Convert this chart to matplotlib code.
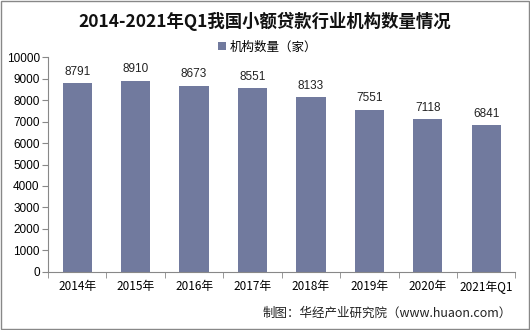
import numpy as np
import matplotlib.pyplot as plt
from matplotlib.patches import Rectangle

plt.rcParams['font.family'] = ['Noto Sans CJK SC', 'DejaVu Sans']

years = ['2014年', '2015年', '2016年', '2017年', '2018年', '2019年', '2020年', '2021年Q1']
counts = [8791, 8910, 8673, 8551, 8133, 7551, 7118, 6841]
yticks = list(range(0, 10001, 1000))

fig = plt.figure(figsize=(5.3, 3.3), dpi=100)
ax = fig.add_axes([0.0906, 0.176, 0.882, 0.651])

x = np.arange(len(years))
bar_color = '#717a9e'
ax.bar(x, counts, width=0.5, color=bar_color, label='机构数量（家）')
for xi, v in zip(x, counts):
    ax.text(xi, v + 250, str(v), ha='center', va='bottom', fontsize=8.5,
            family=['Liberation Sans', 'DejaVu Sans'], color='#222222')

ax.set_xlim(-0.5, len(years) - 0.5)
ax.set_ylim(0, 10000)
ax.set_yticks(yticks)
ax.set_yticklabels([str(t) for t in yticks], family=['Liberation Sans', 'DejaVu Sans'], fontsize=8.5)

# category ticks sit between the bars
ax.set_xticks(x)
ax.set_xticklabels(years, fontsize=8.5)
ax.tick_params(axis='x', length=0, pad=6)
ax.set_xticks(np.arange(-0.5, len(years)), minor=True)
ax.tick_params(axis='x', which='minor', length=4, color='#888888')
ax.tick_params(axis='y', length=4, color='#888888', pad=2)

for s in ['top', 'right']:
    ax.spines[s].set_visible(False)
ax.spines['left'].set_color('#888888')
ax.spines['bottom'].set_color('#888888')

fig.text(0.5, 0.935, '2014-2021年Q1我国小额贷款行业机构数量情况', ha='center', va='center',
         fontsize=12.5, fontweight='bold', color='#111111')
ax.legend(loc='upper center', bbox_to_anchor=(0.47, 1.13), frameon=False, fontsize=9,
          handlelength=0.6, handleheight=0.6, handletextpad=0.3)
fig.text(0.965, 0.05, '制图：华经产业研究院（www.huaon.com）', ha='right', va='center',
         fontsize=9, color='#222222')

# outer frame
fig.patches.append(Rectangle((0.002, 0.003), 0.996, 0.994, transform=fig.transFigure,
                             fill=False, edgecolor='#888888', linewidth=1))

fig.savefig('out.png', dpi=100)
